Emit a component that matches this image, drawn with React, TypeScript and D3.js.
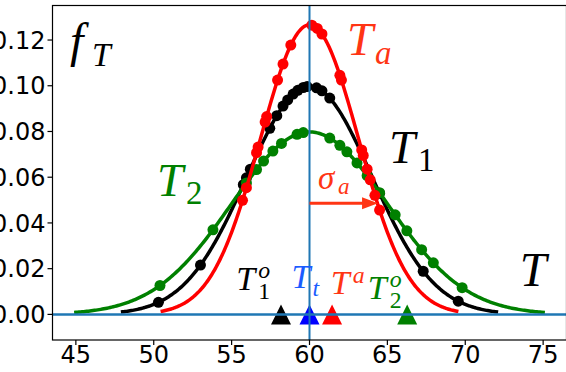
import React from "react";
import * as d3 from "d3";

// ---- data ----
const xTicks = [45, 50, 55, 60, 65, 70, 75];
const yTicks = [0, 0.02, 0.04, 0.06, 0.08, 0.1, 0.12];
const yTickLabels = ["0.00", "0.02", "0.04", "0.06", "0.08", "0.10", "0.12"];

const seriesNames = ["T1", "T2", "Ta"];
const seriesMeans = [60, 60, 60];
const seriesSigmas = [4.0, 5.0, 3.15];

const dotsT1 = [50.3, 53.0, 55.75, 55.95, 56.2, 57.45, 57.9, 58.3, 58.6, 58.95, 59.25, 59.6, 59.85, 60.45, 60.8, 61.3, 64.5, 67.3, 69.55];
const dotsT2 = [50.4, 53.8, 55.95, 56.6, 57.05, 57.65, 58.2, 59.2, 59.6, 61.3, 61.95, 62.4, 63.05, 63.7, 64.5, 65.5, 66.25, 67.2, 67.95, 69.8];
const dotsTa = [55.7, 55.95, 56.6, 56.7, 57.15, 57.25, 57.95, 58.3, 58.8, 60.15, 60.5, 60.8, 61.95, 62.05, 63.35, 63.45, 63.7, 63.9, 64.2, 64.5];

const markerNames = ["T1o", "Tt", "Ta_sup", "T2o"];
const markerX = [58.17, 60, 61.45, 66.27];

const refX = 60; // vertical reference line
const refY = 0; // horizontal reference line
const arrowFrom = 60;
const arrowTo = 64.4;
const arrowY = 0.0486;

// ---- styles ----
const seriesColors = ["#000000", "#008000", "#ff0000"];
const markerColors = ["#000000", "#0000ff", "#ff0000", "#008000"];
const RED_TXT = "#ff3514";
const BLUE_TXT = "#1a5cff";
const AXIS_BLUE = "#1f77b4";

const W = 566;
const H = 372;
const xScale = d3.scaleLinear().domain([43.5, 76.5]).range([52.5, 566.5]);
const yScale = d3.scaleLinear().domain([-0.0112, 0.1351]).range([340, 5.5]);

const pdf = (x: number, m: number, s: number) =>
  Math.exp(-0.5 * ((x - m) / s) ** 2) / (s * Math.sqrt(2 * Math.PI));

const SERIF = "'Liberation Serif', 'DejaVu Serif', serif";
const SANS = "'DejaVu Sans', sans-serif";

type MT = {
  x: number; y: number; base: string; sub?: string; sup?: string;
  size: number; dx: number; subDy?: number; supDy?: number; color: string;
};

const labels: MT[] = [
  { x: 44.62, y: 0.1126, base: "f", sub: "T", size: 48, dx: 22, subDy: 9, color: "#000" },
  { x: 62.41, y: 0.1134, base: "T", sub: "a", size: 47, dx: 28, subDy: 9, color: RED_TXT },
  { x: 65.1, y: 0.0662, base: "T", sub: "1", size: 47, dx: 29, subDy: 8, color: "#000" },
  { x: 50.21, y: 0.0517, base: "T", sub: "2", size: 47, dx: 29, subDy: 8, color: "#008000" },
  { x: 73.5, y: 0.0124, base: "T", size: 48, dx: 0, color: "#000" },
  { x: 60.55, y: 0.0548, base: "σ", sub: "a", size: 33, dx: 20, subDy: 5, color: RED_TXT },
  { x: 55.3, y: 0.0106, base: "T", sub: "1", sup: "o", size: 34, dx: 22, subDy: 9, supDy: -12, color: "#000" },
  { x: 58.85, y: 0.0115, base: "T", sub: "t", size: 34, dx: 21, subDy: 8, color: BLUE_TXT },
  { x: 61.36, y: 0.0089, base: "T", sup: "a", size: 34, dx: 22, supDy: -11, color: RED_TXT },
  { x: 63.74, y: 0.0067, base: "T", sub: "2", sup: "o", size: 34, dx: 22, subDy: 9, supDy: -12, color: "#008000" },
];

function MathText({ l }: { l: MT }) {
  const px = xScale(l.x);
  const py = yScale(l.y);
  const ss = l.size * 0.7;
  return (
    <text x={px} y={py} fill={l.color} fontFamily={SERIF} fontStyle="italic" fontSize={l.size}>
      {l.base}
      {l.sub && (
        <tspan x={px + l.dx} y={py + (l.subDy || 0)} fontSize={ss}
          fontStyle={/[0-9]/.test(l.sub) ? "normal" : "italic"}>{l.sub}</tspan>
      )}
      {l.sup && (
        <tspan x={px + l.dx} y={py + (l.supDy || 0)} fontSize={ss}>{l.sup}</tspan>
      )}
    </text>
  );
}

export default function App() {
  const dotSets = [dotsT1, dotsT2, dotsTa];
  const line = d3.line<[number, number]>().x((d) => xScale(d[0])).y((d) => yScale(d[1]));

  const curves = seriesNames.map((name, i) => {
    const m = seriesMeans[i];
    const s = seriesSigmas[i];
    const xs = d3.range(m - 3 * s, m + 3 * s + 1e-9, (6 * s) / 300);
    return { name, path: line(xs.map((x) => [x, pdf(x, m, s)] as [number, number])) || "", i };
  });

  const plotLeft = xScale(43.5);
  const plotRight = xScale(76.5);
  const plotTop = yScale(0.1351);
  const plotBottom = yScale(-0.0112);

  const ax0 = xScale(arrowFrom);
  const ax1 = xScale(arrowTo);
  const ay = yScale(arrowY);
  const headLen = 16;
  const headHalf = 6;

  const tri = (cx: number, cy: number, r: number) =>
    `M${cx},${cy - r}L${cx - r},${cy + r}L${cx + r},${cy + r}Z`;

  return (
    <svg width={W} height={H} style={{ position: "absolute", left: 0, top: 0 }}>
      <rect width={W} height={H} fill="#fff" />
      <defs>
        <clipPath id="plot">
          <rect x={plotLeft} y={plotTop} width={plotRight - plotLeft} height={plotBottom - plotTop} />
        </clipPath>
      </defs>

      <g clipPath="url(#plot)">
        {[0, 1, 2].map((i) => (
          <g key={seriesNames[i]}>
            <path d={curves[i].path} fill="none" stroke={seriesColors[i]} strokeWidth={3.5} strokeLinecap="square" />
            {dotSets[i].map((x, j) => (
              <circle key={j} cx={xScale(x)} cy={yScale(pdf(x, seriesMeans[i], seriesSigmas[i]))} r={5.5} fill={seriesColors[i]} />
            ))}
          </g>
        ))}

        {markerX.map((x, i) => (
          <path key={markerNames[i]} d={tri(xScale(x), yScale(0), 10)} fill={markerColors[i]} />
        ))}

        <line x1={plotLeft} x2={plotRight} y1={yScale(refY)} y2={yScale(refY)} stroke={AXIS_BLUE} strokeWidth={2.5} />
        <line x1={xScale(refX)} x2={xScale(refX)} y1={plotTop} y2={plotBottom} stroke={AXIS_BLUE} strokeWidth={2} />

        <line x1={ax0} x2={ax1 - headLen + 1} y1={ay} y2={ay} stroke={RED_TXT} strokeWidth={3} />
        <path d={`M${ax1},${ay}L${ax1 - headLen},${ay - headHalf}L${ax1 - headLen},${ay + headHalf}Z`} fill={RED_TXT} />
      </g>

      {labels.map((l, i) => <MathText key={i} l={l} />)}

      {/* spines */}
      <rect x={plotLeft} y={plotTop} width={plotRight - plotLeft} height={plotBottom - plotTop} fill="none" stroke="#000" strokeWidth={1.2} />

      {/* y axis ticks */}
      {yTicks.map((v, i) => (
        <g key={v}>
          <line x1={plotLeft - 5} x2={plotLeft} y1={yScale(v)} y2={yScale(v)} stroke="#000" strokeWidth={1.2} />
          <text x={plotLeft - 7} y={yScale(v)} dy="0.36em" textAnchor="end" fontFamily={SANS} fontSize={24} fill="#000">
            {yTickLabels[i]}
          </text>
        </g>
      ))}

      {/* x axis ticks */}
      {xTicks.map((v) => (
        <g key={v}>
          <line x1={xScale(v)} x2={xScale(v)} y1={plotBottom} y2={plotBottom + 5} stroke="#000" strokeWidth={1.2} />
          <text x={xScale(v)} y={plotBottom + 23} textAnchor="middle" fontFamily={SANS} fontSize={24} fill="#000">
            {v}
          </text>
        </g>
      ))}
    </svg>
  );
}
